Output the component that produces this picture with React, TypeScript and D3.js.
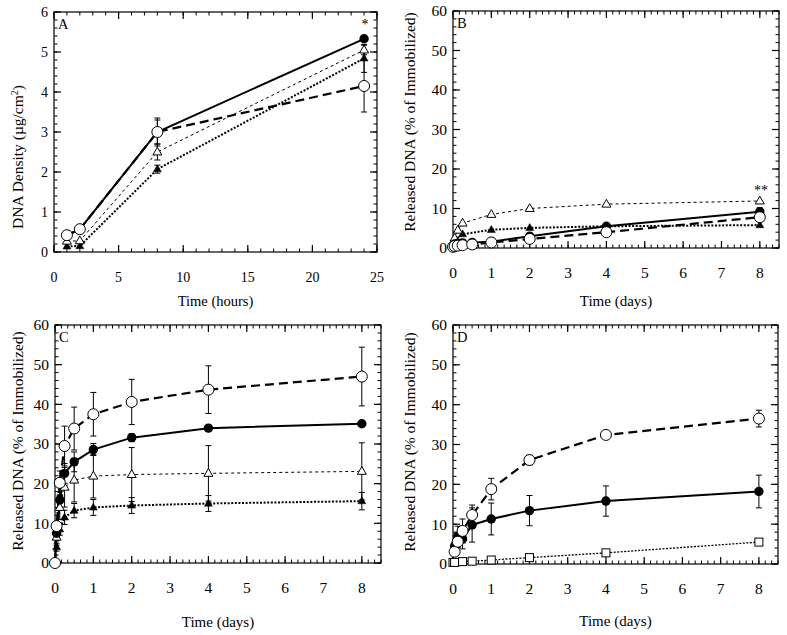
import React from 'react';
import * as d3 from 'd3';

// ---------- Panel A (time in hours) ----------
const hoursA = [1, 2, 8, 24];
const aFilledCircle = [0.42, 0.57, 3.0, 5.33];
const aFilledCircleErr = [0.05, 0.05, 0.35, 0.05];
const aOpenCircle = [0.42, 0.57, 3.0, 4.15];
const aOpenCircleErr = [0.05, 0.05, 0.3, 0.65];
const aOpenTriangle = [0.27, 0.28, 2.5, 5.05];
const aOpenTriangleErr = [0.05, 0.05, 0.2, 0.12];
const aFilledTriangle = [0.14, 0.15, 2.07, 4.84];
const aFilledTriangleErr = [0.05, 0.05, 0.1, 0.35];

// ---------- Panel B (time in days) ----------
const daysB = [0, 1 / 24, 3 / 24, 6 / 24, 12 / 24, 1, 2, 4, 8];
const bFilledCircle = [0.2, 1.0, 1.2, 1.3, 1.4, 1.6, 3.0, 5.5, 9.2];
const bFilledCircleErr = [0, 0.2, 0.2, 0.2, 0.2, 0.3, 0.5, 0.5, 1.0];
const bOpenCircle = [0.3, 0.5, 0.6, 0.7, 0.9, 1.4, 2.3, 4.0, 7.8];
const bOpenCircleErr = [0, 0, 0, 0, 0, 0.3, 0.5, 0.5, 1.0];
const daysBTri = [0, 1 / 24, 3 / 24, 6 / 24, 1, 2, 4, 8];
const bOpenTriangle = [0.5, 2.5, 4.5, 6.3, 8.5, 10.0, 11.1, 11.9];
const bOpenTriangleErr = [0, 0.2, 0.2, 0.3, 0.3, 0.4, 0.4, 0.6];
const daysBFTri = [0, 1 / 24, 6 / 24, 1, 2, 4, 8];
const bFilledTriangle = [0.2, 2.0, 3.5, 4.6, 5.1, 5.5, 5.8];
const bFilledTriangleErr = [0, 0.3, 0.3, 0.4, 0.4, 0.4, 0.6];

// ---------- Panel C ----------
const daysC = [0, 1 / 24, 3 / 24, 6 / 24, 12 / 24, 1, 2, 4, 8];
const cOpenCircle = [0, 9.3, 20.2, 29.5, 33.9, 37.5, 40.6, 43.7, 47.0];
const cOpenCircleErr = [0, 1.0, 3.0, 5.0, 5.4, 5.5, 5.7, 6.0, 7.4];
const cFilledCircle = [0, 7.5, 15.9, 22.6, 25.5, 28.6, 31.6, 34.0, 35.1];
const cFilledCircleErr = [0, 1.0, 2.0, 2.5, 2.5, 1.5, 1.0, 0.5, 0.6];
const cOpenTriangle = [0, 6.5, 14.0, 19.1, 20.9, 21.9, 22.3, 22.6, 23.1];
const cOpenTriangleErr = [0, 2.0, 3.0, 5.0, 5.5, 5.5, 6.8, 7.0, 7.2];
const cFilledTriangle = [0, 4.0, 8.5, 11.5, 13.2, 14.0, 14.5, 15.0, 15.6];
const cFilledTriangleErr = [0, 1.0, 1.5, 1.8, 1.8, 2.0, 2.0, 2.0, 2.2];

// ---------- Panel D ----------
const daysD = [1 / 24, 3 / 24, 6 / 24, 12 / 24, 1, 2, 4, 8];
const dOpenCircle = [3.1, 5.6, 8.3, 12.3, 18.8, 26.1, 32.4, 36.5];
const dOpenCircleErr = [0.5, 1.5, 3.0, 2.5, 2.7, 1.2, 0.5, 2.1];
const dFilledCircle = [4.5, 7.0, 6.3, 9.8, 11.3, 13.4, 15.8, 18.2];
const dFilledCircleErr = [1.0, 2.5, 2.5, 4.3, 4.0, 3.8, 3.8, 4.1];
const daysDSq = [0, 1 / 24, 6 / 24, 12 / 24, 1, 2, 4, 8];
const dOpenSquare = [0.4, 0.4, 0.6, 0.7, 1.0, 1.6, 2.8, 5.5];
const dOpenSquareErr = [0, 0, 0, 0.3, 0.3, 0.4, 0.6, 0.5];

// ---------- Axis ticks / labels ----------
const hourTicks = [0, 5, 10, 15, 20, 25];
const densityTicks = [0, 1, 2, 3, 4, 5, 6];
const dayTicks = [0, 1, 2, 3, 4, 5, 6, 7, 8];
const percentTicks = [0, 10, 20, 30, 40, 50, 60];

type Marker = 'fc' | 'oc' | 'ot' | 'ft' | 'os';
type LineKind = 'solid' | 'dash' | 'thin' | 'dot' | 'sq';
interface Series { x: number[]; y: number[]; err: number[]; marker: Marker; line: LineKind; }

interface Panel {
  letter: string;
  left: number; right: number; top: number; bottom: number;
  xDomain: [number, number]; yDomain: [number, number];
  xTicks: number[]; yTicks: number[]; xMinor: number; yMinor: number;
  tickFont: number; titleFont: number; xTitleFont: number;
  xTitle: string; yTitle: React.ReactNode;
  xTitleY: number; yTitleX: number; yTitleY: number;
  series: Series[];
  notes: { x: number; y: number; text: string }[];
}

const FONT = 'Liberation Serif';

const lineStyle: Record<LineKind, { w: number; dash?: string }> = {
  solid: { w: 2 },
  dash: { w: 2.2, dash: '9,5' },
  thin: { w: 1, dash: '3,3' },
  dot: { w: 2, dash: '2,1.6' },
  sq: { w: 1.3, dash: '2,1.5' },
};

function MarkerShape({ kind, cx, cy }: { kind: Marker; cx: number; cy: number }) {
  if (kind === 'fc') return <circle cx={cx} cy={cy} r={4.7} fill="#000" />;
  if (kind === 'oc') return <circle cx={cx} cy={cy} r={5.5} fill="#fff" stroke="#000" strokeWidth={1} />;
  if (kind === 'os') return <rect x={cx - 4} y={cy - 4} width={8} height={8} fill="#fff" stroke="#000" strokeWidth={1} />;
  const s = kind === 'ot' ? 9 : 8;
  const h = s * 0.866;
  const p = `M${cx},${cy - h * 0.62} L${cx + s / 2},${cy + h * 0.38} L${cx - s / 2},${cy + h * 0.38} Z`;
  return kind === 'ot'
    ? <path d={p} fill="#fff" stroke="#000" strokeWidth={1} />
    : <path d={p} fill="#000" stroke="#000" strokeWidth={0.5} />;
}

function range(a: number, b: number, step: number) {
  const out: number[] = [];
  for (let v = a; v <= b + 1e-9; v += step) out.push(v);
  return out;
}

function PanelView({ p }: { p: Panel }) {
  const x = d3.scaleLinear().domain(p.xDomain).range([p.left, p.right]);
  const y = d3.scaleLinear().domain(p.yDomain).range([p.bottom, p.top]);
  const xMin = range(p.xDomain[0], p.xDomain[1], p.xMinor);
  const yMin = range(p.yDomain[0], p.yDomain[1], p.yMinor);
  const line = d3.line<[number, number]>().x(d => x(d[0])).y(d => y(d[1]));
  const order: Marker[] = ['os', 'ft', 'ot', 'fc', 'oc'];
  const sorted = [...p.series].sort((a, b) => order.indexOf(a.marker) - order.indexOf(b.marker));
  return (
    <g>
      <rect x={p.left} y={p.top} width={p.right - p.left} height={p.bottom - p.top} fill="none" stroke="#000" strokeWidth={1.2} />
      {xMin.map((v, i) => (
        <g key={'xm' + i}>
          <line x1={x(v)} x2={x(v)} y1={p.bottom} y2={p.bottom - 3.5} stroke="#000" strokeWidth={1} />
          <line x1={x(v)} x2={x(v)} y1={p.top} y2={p.top + 3.5} stroke="#000" strokeWidth={1} />
        </g>
      ))}
      {yMin.map((v, i) => (
        <g key={'ym' + i}>
          <line x1={p.left} x2={p.left + 3.5} y1={y(v)} y2={y(v)} stroke="#000" strokeWidth={1} />
          <line x1={p.right} x2={p.right - 3.5} y1={y(v)} y2={y(v)} stroke="#000" strokeWidth={1} />
        </g>
      ))}
      {p.xTicks.map((v, i) => (
        <g key={'xt' + i}>
          <line x1={x(v)} x2={x(v)} y1={p.bottom} y2={p.bottom - 7} stroke="#000" strokeWidth={1.2} />
          <line x1={x(v)} x2={x(v)} y1={p.top} y2={p.top + 7} stroke="#000" strokeWidth={1.2} />
          <text x={x(v)} y={p.bottom + 30} textAnchor="middle" fontSize={p.tickFont}>{v}</text>
        </g>
      ))}
      {p.yTicks.map((v, i) => (
        <g key={'yt' + i}>
          <line x1={p.left} x2={p.left + 7} y1={y(v)} y2={y(v)} stroke="#000" strokeWidth={1.2} />
          <line x1={p.right} x2={p.right - 7} y1={y(v)} y2={y(v)} stroke="#000" strokeWidth={1.2} />
          <text x={p.left - 6} y={y(v)} dy="0.35em" textAnchor="end" fontSize={p.tickFont}>{v}</text>
        </g>
      ))}
      <text x={(p.left + p.right) / 2} y={p.xTitleY} textAnchor="middle" fontSize={p.xTitleFont}>{p.xTitle}</text>
      <text transform={`translate(${p.yTitleX},${p.yTitleY}) rotate(-90)`} textAnchor="middle" dy="0.35em" fontSize={p.titleFont}>{p.yTitle}</text>
      <text x={p.left + 4} y={p.top + 17} fontSize={14.5}>{p.letter}</text>
      {sorted.map((s, i) => {
        const st = lineStyle[s.line];
        const pts: [number, number][] = s.x.map((xv, j) => [xv, s.y[j]]);
        return <path key={'l' + i} d={line(pts) || ''} fill="none" stroke="#000" strokeWidth={st.w} strokeDasharray={st.dash} />;
      })}
      {sorted.map((s, i) => (
        <g key={'e' + i}>
          {s.x.map((xv, j) => {
            const e = s.err[j];
            if (!e || y(s.y[j] - e) - y(s.y[j] + e) < 6) return null;
            const cx = x(xv);
            const y1 = y(s.y[j] - e), y2 = y(s.y[j] + e);
            return (
              <g key={j}>
                <line x1={cx} x2={cx} y1={y1} y2={y2} stroke="#000" strokeWidth={1} />
                <line x1={cx - 3} x2={cx + 3} y1={y1} y2={y1} stroke="#000" strokeWidth={1} />
                <line x1={cx - 3} x2={cx + 3} y1={y2} y2={y2} stroke="#000" strokeWidth={1} />
              </g>
            );
          })}
        </g>
      ))}
      {sorted.map((s, i) => (
        <g key={'m' + i}>
          {s.x.map((xv, j) => <MarkerShape key={j} kind={s.marker} cx={x(xv)} cy={y(s.y[j])} />)}
        </g>
      ))}
      {p.notes.map((n, i) => (
        <text key={'n' + i} x={n.x} y={n.y} textAnchor="middle" fontSize={14} fill="#000">{n.text}</text>
      ))}
    </g>
  );
}

const releasedTitle = 'Released DNA (% of Immobilized)';

export default function App() {
  const panels: Panel[] = [
    {
      letter: 'A', left: 54, right: 377, top: 12, bottom: 252,
      xDomain: [0, 25], yDomain: [0, 6], xTicks: hourTicks, yTicks: densityTicks, xMinor: 1, yMinor: 0.2,
      tickFont: 14, titleFont: 15.5, xTitleFont: 14.5,
      xTitle: 'Time (hours)',
      yTitle: <>DNA Density (µg/cm<tspan dy="-5" fontSize={10}>2</tspan><tspan dy="5">)</tspan></>,
      xTitleY: 306, yTitleX: 18, yTitleY: 157,
      series: [
        { x: hoursA, y: aFilledCircle, err: aFilledCircleErr, marker: 'fc', line: 'solid' },
        { x: hoursA, y: aOpenCircle, err: aOpenCircleErr, marker: 'oc', line: 'dash' },
        { x: hoursA, y: aOpenTriangle, err: aOpenTriangleErr, marker: 'ot', line: 'thin' },
        { x: hoursA, y: aFilledTriangle, err: aFilledTriangleErr, marker: 'ft', line: 'dot' },
      ],
      notes: [{ x: 365, y: 29, text: '*' }],
    },
    {
      letter: 'B', left: 453, right: 779, top: 11, bottom: 248,
      xDomain: [0, 8.5], yDomain: [0, 60], xTicks: dayTicks, yTicks: percentTicks, xMinor: 1 / 6, yMinor: 2,
      tickFont: 15.5, titleFont: 15.5, xTitleFont: 15,
      xTitle: 'Time (days)', yTitle: releasedTitle,
      xTitleY: 306, yTitleX: 410, yTitleY: 122,
      series: [
        { x: daysB, y: bFilledCircle, err: bFilledCircleErr, marker: 'fc', line: 'solid' },
        { x: daysB, y: bOpenCircle, err: bOpenCircleErr, marker: 'oc', line: 'dash' },
        { x: daysBTri, y: bOpenTriangle, err: bOpenTriangleErr, marker: 'ot', line: 'thin' },
        { x: daysBFTri, y: bFilledTriangle, err: bFilledTriangleErr, marker: 'ft', line: 'dot' },
      ],
      notes: [{ x: 761, y: 195, text: '**' }],
    },
    {
      letter: 'C', left: 55, right: 381, top: 325, bottom: 563,
      xDomain: [0, 8.5], yDomain: [0, 60], xTicks: dayTicks, yTicks: percentTicks, xMinor: 1 / 6, yMinor: 2,
      tickFont: 15.5, titleFont: 15.5, xTitleFont: 15,
      xTitle: 'Time (days)', yTitle: releasedTitle,
      xTitleY: 627, yTitleX: 17.5, yTitleY: 441,
      series: [
        { x: daysC, y: cFilledCircle, err: cFilledCircleErr, marker: 'fc', line: 'solid' },
        { x: daysC, y: cOpenCircle, err: cOpenCircleErr, marker: 'oc', line: 'dash' },
        { x: daysC, y: cOpenTriangle, err: cOpenTriangleErr, marker: 'ot', line: 'thin' },
        { x: daysC, y: cFilledTriangle, err: cFilledTriangleErr, marker: 'ft', line: 'dot' },
      ],
      notes: [],
    },
    {
      letter: 'D', left: 453, right: 778, top: 325, bottom: 564,
      xDomain: [0, 8.5], yDomain: [0, 60], xTicks: dayTicks, yTicks: percentTicks, xMinor: 1 / 6, yMinor: 2,
      tickFont: 15.5, titleFont: 15.5, xTitleFont: 15,
      xTitle: 'Time (days)', yTitle: releasedTitle,
      xTitleY: 626, yTitleX: 410, yTitleY: 442,
      series: [
        { x: daysD, y: dFilledCircle, err: dFilledCircleErr, marker: 'fc', line: 'solid' },
        { x: daysD, y: dOpenCircle, err: dOpenCircleErr, marker: 'oc', line: 'dash' },
        { x: daysDSq, y: dOpenSquare, err: dOpenSquareErr, marker: 'os', line: 'sq' },
      ],
      notes: [],
    },
  ];
  return (
    <svg width={787} height={635} viewBox="0 0 787 635" fontFamily={FONT}
      style={{ position: 'absolute', left: 0, top: 0, background: '#fff', fontFamily: FONT }}>
      <rect width={787} height={635} fill="#fff" />
      {panels.map(p => <PanelView key={p.letter} p={p} />)}
    </svg>
  );
}
